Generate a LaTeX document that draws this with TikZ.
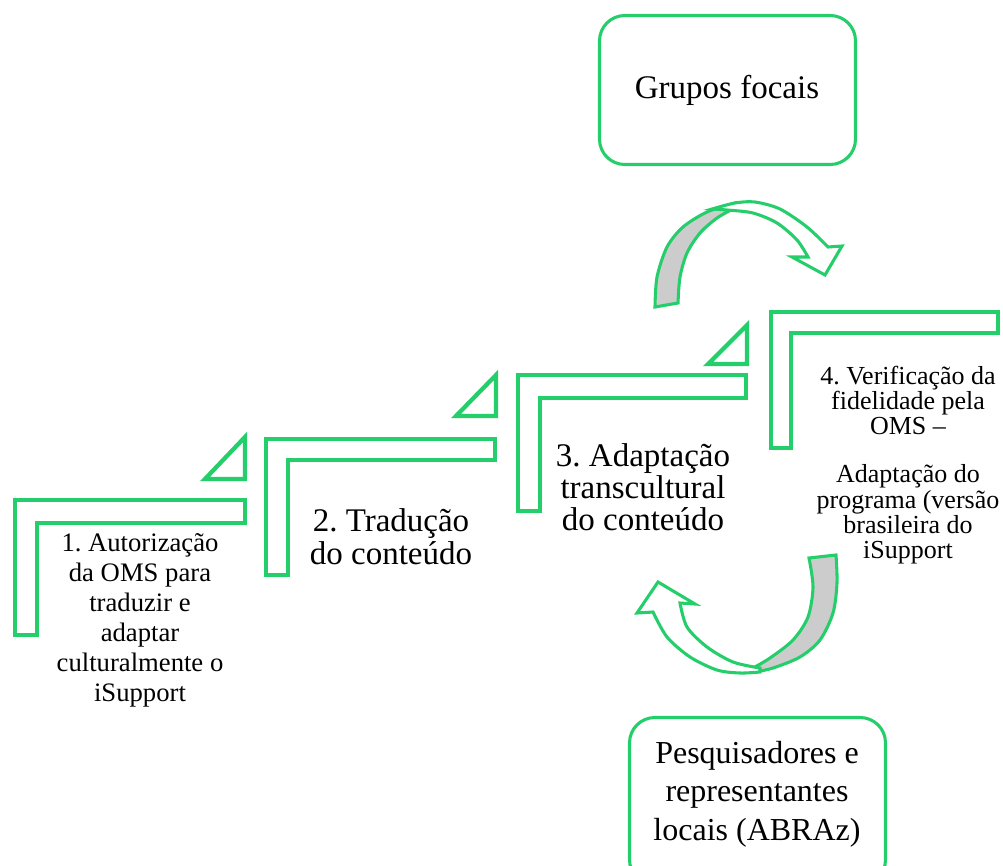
\documentclass[tikz,border=0pt]{standalone}
\usepackage{fontspec}
\setmainfont{Liberation Serif}
\usetikzlibrary{shadows}
\definecolor{verde}{RGB}{35,206,107}
\frenchspacing

\begin{document}
\begin{tikzpicture}[x=0.75pt,y=-0.75pt,
    degrau/.style={draw=verde,line width=3.6pt,fill=white,
        drop shadow={shadow xshift=1.5pt,shadow yshift=-1.5pt,opacity=0.3}},
    triang/.style={draw=verde,line width=3.2pt,fill=white},
    caixa/.style={draw=verde,line width=2.3pt,rounded corners=19pt,fill=white},
    setatras/.style={draw=verde,line width=2.3pt,fill=black!20},
    setafrente/.style={draw=verde,line width=2.3pt,fill=white},
    texto/.style={align=center,inner sep=0pt}]
    \useasboundingbox (0,0) rectangle (1003,865);
    \clip (0,0) rectangle (1003,865);

    % Degraus
    \draw[degrau] (15,500) -- (245,500) -- (245,523) -- (37,523) -- (37,635) -- (15,635) -- cycle;
    \draw[degrau] (266,439) -- (495,439) -- (495,460) -- (288,460) -- (288,575) -- (266,575) -- cycle;
    \draw[degrau] (518,375) -- (746,375) -- (746,398) -- (540,398) -- (540,511) -- (518,511) -- cycle;
    \draw[degrau] (771,312) -- (998,312) -- (998,333) -- (791,333) -- (791,448) -- (771,448) -- cycle;

    % Triângulos
    \draw[triang] (245,479) -- (245,437) -- (205,479) -- cycle;
    \draw[triang] (496,416) -- (496,375) -- (456,416) -- cycle;
    \draw[triang] (747,364) -- (747,325) -- (708,364) -- cycle;

    % Textos dos passos
    \node[texto,font=\fontsize{20}{22.5}\selectfont] (passo1) at (140,620)
        {1. Autorização\\da OMS para\\traduzir e\\adaptar\\culturalmente o\\iSupport};
    \node[texto,font=\fontsize{24.75}{25}\selectfont] (passo2) at (391,537)
        {2. Tradução\\do conteúdo};
    \node[texto,font=\fontsize{24.75}{24}\selectfont] (passo3) at (643,487)
        {3. Adaptação\\transcultural\\do conteúdo};
    \node[texto,font=\fontsize{19.5}{19}\selectfont] (passo4) at (908,465)
        {4. Verificação da\\fidelidade pela\\OMS –\\[17pt]Adaptação do\\programa (versão\\brasileira do\\iSupport};

    % Caixas
    \draw[caixa] (599.5,15.5) rectangle (855.5,164.5);
    \node[texto,font=\fontsize{24.75}{25}\selectfont] (grupos) at (727,90) {Grupos focais};
    \draw[caixa] (629.5,717.5) rectangle (885.5,885);
    \node[texto,font=\fontsize{24}{29}\selectfont] (pesq) at (757,794)
        {Pesquisadores e\\representantes\\locais (ABRAz)};

    % Seta de cima
    \draw[setatras] plot[smooth] coordinates {(655,307) (657,277) (667,247) (683,227) (707,212) (735,203)}
        -- plot[smooth] coordinates {(733,209) (717,218) (700,233) (687,253) (680,277) (678,303)} -- cycle;
    \draw[setafrente] plot[smooth] coordinates {(712,209) (735,203) (755,202) (780,209) (807,227) (828,247)}
        -- (842,246) -- (825,275) -- (792,257) -- (808,257)
        -- plot[smooth] coordinates {(808,257) (797,240) (777,223) (753,213) (727,210) (712,209)} -- cycle;

    % Seta de baixo
    \draw[setatras] (809,558) -- plot[smooth] coordinates {(836,555) (837,583) (833,613) (820,640) (800,657) (773,668) (755,672)}
        -- plot[smooth] coordinates {(753,668) (770,658) (793,640) (808,617) (813,587) (809,558)} -- cycle;
    \draw[setafrente] plot[smooth] coordinates {(760,672) (740,673) (717,670) (690,657) (667,637) (653,612)}
        -- (637,613) -- (658,582) -- (695,604) -- (680,603)
        -- plot[smooth] coordinates {(680,603) (687,627) (707,647) (733,662) (760,668)} -- cycle;
\end{tikzpicture}
\end{document}
